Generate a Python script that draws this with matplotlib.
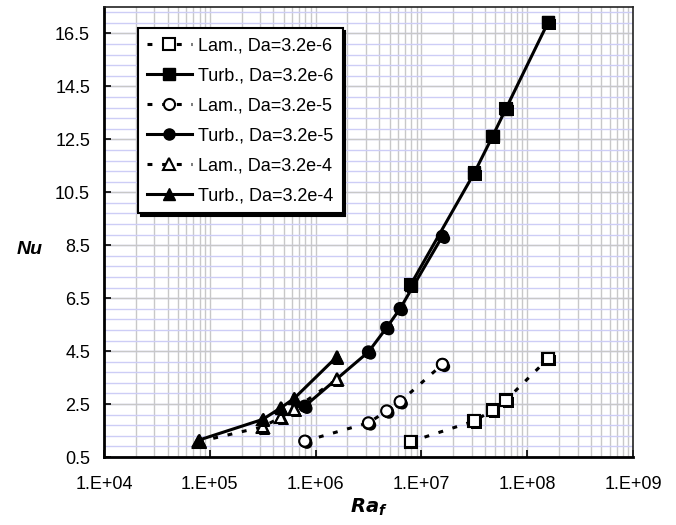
import numpy as np
import matplotlib
matplotlib.use("Agg")
import matplotlib.pyplot as plt
import matplotlib.patheffects as pe
from matplotlib.ticker import FixedLocator, FuncFormatter

plt.rcParams["font.family"] = ["Liberation Sans", "DejaVu Sans"]

# Ra_f values per Darcy number
ra_da6 = [7.9e6, 3.16e7, 4.7e7, 6.3e7, 1.58e8]
ra_da5 = [7.9e5, 3.16e6, 4.7e6, 6.3e6, 1.58e7]
ra_da4 = [7.9e4, 3.16e5, 4.7e5, 6.3e5, 1.58e6]

# Nusselt numbers
nu_lam_da6 = [1.08, 1.86, 2.27, 2.65, 4.22]
nu_turb_da6 = [7.0, 11.23, 12.61, 13.66, 16.93]
nu_lam_da5 = [1.10, 1.79, 2.24, 2.59, 4.0]
nu_turb_da5 = [2.42, 4.47, 5.39, 6.11, 8.84]
nu_lam_da4 = [1.08, 1.64, 2.0, 2.31, 3.43]
nu_turb_da4 = [1.14, 1.92, 2.36, 2.72, 4.28]

labels = ["Lam., Da=3.2e-6", "Turb., Da=3.2e-6",
          "Lam., Da=3.2e-5", "Turb., Da=3.2e-5",
          "Lam., Da=3.2e-4", "Turb., Da=3.2e-4"]

series = [
    (ra_da6, nu_lam_da6, "s", False),
    (ra_da6, nu_turb_da6, "s", True),
    (ra_da5, nu_lam_da5, "o", False),
    (ra_da5, nu_turb_da5, "o", True),
    (ra_da4, nu_lam_da4, "^", False),
    (ra_da4, nu_turb_da4, "^", True),
]

fig = plt.figure(figsize=(6.76, 5.25), dpi=100)
ax = fig.add_axes([0.1538, 0.1295, 0.7826, 0.8572])
ax.set_xscale("log")
ax.set_xlim(1e4, 1e9)
ax.set_ylim(0.5, 17.5)

# grid: vertical grey (major + minor), horizontal grey major and blue minor
for dec in range(4, 9):
    for k in range(1, 10):
        ax.axvline(k * 10.0 ** dec, color="#c8c8c8", lw=1.0, zorder=0)
for yv in np.arange(0.5, 17.6, 0.4):
    ax.axhline(yv, color="#cdcdf6", lw=1.0, zorder=0)
for yv in np.arange(0.5, 17.0, 2.0):
    ax.axhline(yv, color="#c8c8c8", lw=1.0, zorder=0.5)

shadow = [pe.SimplePatchShadow(offset=(1.6, -1.6), shadow_rgbFace="black", alpha=1.0), pe.Normal()]
handles = []
for (x, y, m, turb), lab in zip(series, labels):
    if turb:
        h, = ax.plot(x, y, "-", color="black", lw=2.2, marker=m, ms=8,
                     mfc="black", mec="black", label=lab, zorder=3)
    else:
        h, = ax.plot(x, y, color="black", lw=2.2, ls=(0, (1.6, 3.2)), marker=m, ms=8,
                     mfc="white", mec="black", mew=1.5, label=lab, zorder=3)
    ax.plot(x, y, ls="none", marker=m, ms=8, mfc=h.get_mfc(), mec="black", mew=1.5,
            zorder=4, path_effects=shadow)
    handles.append(h)

ax.xaxis.set_major_locator(FixedLocator([10.0 ** e for e in range(4, 10)]))
ax.xaxis.set_minor_locator(FixedLocator([]))
ax.xaxis.set_major_formatter(FuncFormatter(lambda v, p: "1.E+%02d" % round(np.log10(v))))
ax.yaxis.set_major_locator(FixedLocator(np.arange(0.5, 17.0, 2.0)))
ax.yaxis.set_major_formatter(FuncFormatter(lambda v, p: "%.1f" % v))
ax.tick_params(direction="in", length=5, width=1.2, labelsize=13, color="black")
ax.tick_params(axis="x", pad=14)
ax.tick_params(axis="y", pad=10)

for s in ["left", "bottom"]:
    ax.spines[s].set_linewidth(2.0)
for s in ["top", "right"]:
    ax.spines[s].set_linewidth(1.2)
    ax.spines[s].set_color("#222222")

ax.set_xlabel("$\\mathbfit{Ra}_\\mathbfit{f}$", fontsize=14, labelpad=2)
ax.text(-0.14, 0.46, "Nu", transform=ax.transAxes, fontsize=14, fontweight="bold",
        fontstyle="italic", ha="center", va="center")

leg = ax.legend(handles=handles, loc="upper left", bbox_to_anchor=(0.064, 0.953),
                fontsize=13, frameon=True, fancybox=False, shadow={"color": "black", "alpha": 1},
                handlelength=2.5, labelspacing=0.72, borderpad=0.5, handletextpad=0.35,
                borderaxespad=0)
leg.get_frame().set_edgecolor("black")
leg.get_frame().set_linewidth(1.5)

fig.savefig("out.png", dpi=100)
